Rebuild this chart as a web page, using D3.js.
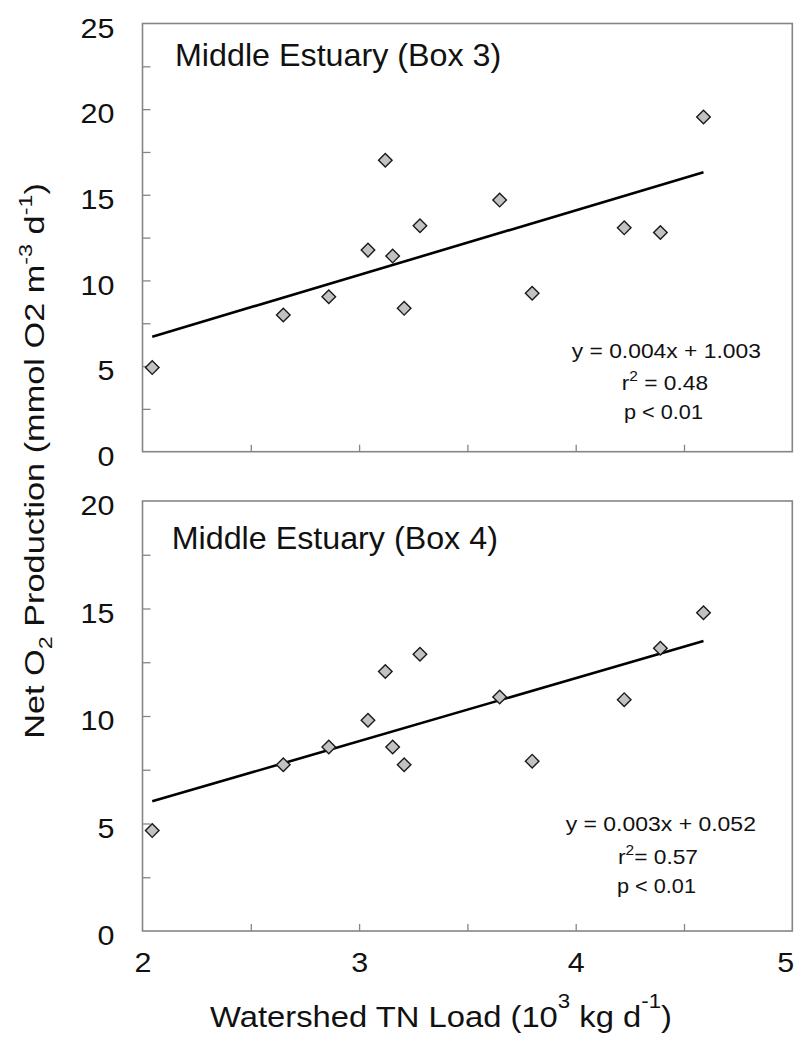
<!DOCTYPE html>
<html>
<head>
<meta charset="utf-8">
<script src="https://cdn.jsdelivr.net/npm/d3@7"></script>
<style>
  html, body { margin: 0; padding: 0; background: #fff; }
  svg { display: block; }
  text { font-family: "Liberation Sans", Arial, Helvetica, sans-serif; fill: #111; }
</style>
</head>
<body>
<svg id="chart" width="795" height="1038"></svg>
<script>
// Watershed total-nitrogen load (10^3 kg d^-1), shared by both boxes
const loads = [2.045, 2.650, 2.860, 3.041, 3.121, 3.155, 3.208, 3.281, 3.649, 3.799, 4.224, 4.391, 4.590];
// Net O2 production (mmol O2 m^-3 d^-1)
const box3 = [4.91, 7.98, 9.05, 11.77, 17.02, 11.42, 8.37, 13.19, 14.69, 9.25, 13.07, 12.80, 19.54];
const box4 = [4.67, 7.73, 8.56, 9.80, 12.07, 8.56, 7.73, 12.87, 10.88, 7.90, 10.76, 13.15, 14.80];

const panelTitles = ["Middle Estuary (Box 3)", "Middle Estuary (Box 4)"];
const equations = ["y = 0.004x + 1.003", "y = 0.003x + 0.052"];
const rSquared = ["0.48", "0.57"];
const pValues = ["p < 0.01", "p < 0.01"];
const xTickLabels = [2, 3, 4, 5];
const yMax = [25, 20];

const svg = d3.select("#chart");
const GRAY = "#858585";

const left = 142.5, right = 792.3;
const panels = [
  { top: 23.5, bottom: 451.7, values: box3, ymax: yMax[0], title: panelTitles[0], eq: equations[0], r2: rSquared[0], p: pValues[0],
    titlePos: [175, 66, 326.5], eqPos: [[666.3, 358, 189.3], [664.9, 389.5, 86.3], [663.5, 419, 79]], r2Sep: " = ", showX: false },
  { top: 501, bottom: 931, values: box4, ymax: yMax[1], title: panelTitles[1], eq: equations[1], r2: rSquared[1], p: pValues[1],
    titlePos: [171.7, 549.3, 326.3], eqPos: [[660.8, 830.5, 190.3], [658, 864.3, 80], [656.5, 892.8, 79]], r2Sep: "= ", showX: true }
];

const x = d3.scaleLinear().domain([2, 5]).range([left, right]);

// Write text made of plain / raised / lowered runs
function richText(sel, parts, size, raise) {
  const t = sel.append("text").attr("font-size", size);
  let shift = 0;
  parts.forEach(p => {
    const target = p.sup ? -(raise || 0.42) * size : p.sub ? 0.28 * size : 0;
    t.append("tspan")
      .attr("dy", target - shift)
      .attr("font-size", (p.sup || p.sub) ? size * 0.68 : size)
      .text(p.t);
    shift = target;
  });
  return t;
}

// Place a text at (tx, ty) and stretch it horizontally to a set width
function placeFit(t, tx, ty, width, extra) {
  const w = t.node().getBBox().width;
  t.attr("transform", `translate(${tx},${ty})${extra || ""} scale(${width / w},1)`);
}

panels.forEach(P => {
  const g = svg.append("g");
  const y = d3.scaleLinear().domain([0, P.ymax]).range([P.bottom, P.top]);

  // inward ticks every 2.5 on y, every 0.5 on x
  const yTicks = d3.range(2.5, P.ymax, 2.5);
  const xTicks = d3.range(2.5, 5, 0.5);

  const yAxis = g.append("g").attr("transform", `translate(${left},0)`)
    .call(d3.axisLeft(y).tickValues(yTicks).tickSizeInner(-8).tickSizeOuter(0).tickFormat(""));
  const xAxis = g.append("g").attr("transform", `translate(0,${P.bottom})`)
    .call(d3.axisBottom(x).tickValues(xTicks).tickSizeInner(-7).tickSizeOuter(0).tickFormat(""));
  [yAxis, xAxis].forEach(a => {
    a.select(".domain").remove();
    a.selectAll("line").attr("stroke", GRAY).attr("stroke-width", 1.3);
  });

  // frame
  g.append("rect")
    .attr("x", left).attr("y", P.top)
    .attr("width", right - left).attr("height", P.bottom - P.top)
    .attr("fill", "none").attr("stroke", GRAY).attr("stroke-width", 1.6);

  // y tick labels
  const yl = g.append("g").attr("transform", `translate(${left},0)`)
    .call(d3.axisLeft(y).tickValues(d3.range(0, P.ymax + 1, 5)).tickSize(0).tickFormat(d3.format("d")));
  yl.select(".domain").remove();
  yl.selectAll("text")
    .attr("x", 0).attr("dy", null)
    .attr("font-size", 27).attr("font-family", null).attr("fill", "#111")
    .attr("text-anchor", "end")
    .attr("transform", "translate(-28,13.7) scale(1.13,1)");

  if (P.showX) {
    const xl = g.append("g").attr("transform", `translate(0,${P.bottom})`)
      .call(d3.axisBottom(x).tickValues(xTickLabels).tickSize(0).tickFormat(d3.format("d")));
    xl.select(".domain").remove();
    xl.selectAll("text")
      .attr("y", 0).attr("dy", null)
      .attr("font-size", 27).attr("font-family", null).attr("fill", "#111")
      .attr("text-anchor", "middle")
      .attr("transform", d => `translate(${d === 5 ? -7 : 0},41) scale(1.13,1)`);
  }

  // least-squares fit through the points
  const pts = loads.map((l, i) => [l, P.values[i]]);
  const mx = d3.mean(loads), my = d3.mean(P.values);
  const slope = d3.sum(pts, d => (d[0] - mx) * (d[1] - my)) / d3.sum(pts, d => (d[0] - mx) ** 2);
  const icpt = my - slope * mx;
  const [x0, x1] = d3.extent(loads);
  g.append("path")
    .datum([[x0, icpt + slope * x0], [x1, icpt + slope * x1]])
    .attr("d", d3.line().x(d => x(d[0])).y(d => y(d[1])))
    .attr("fill", "none").attr("stroke", "#000").attr("stroke-width", 2.6);

  // diamonds
  g.selectAll(".pt").data(pts).join("path")
    .attr("class", "pt")
    .attr("d", d3.symbol(d3.symbolSquare, 92)())
    .attr("transform", d => `translate(${x(d[0])},${y(d[1])}) rotate(45)`)
    .attr("fill", "#c2c2c2").attr("stroke", "#1a1a1a").attr("stroke-width", 1.4);

  // panel title
  const tt = g.append("text").attr("font-size", 31).attr("text-anchor", "start").text(P.title);
  placeFit(tt, P.titlePos[0], P.titlePos[1], P.titlePos[2]);

  // regression statistics
  const e1 = g.append("text").attr("font-size", 21).attr("text-anchor", "middle").text(P.eq);
  placeFit(e1, P.eqPos[0][0], P.eqPos[0][1], P.eqPos[0][2]);
  const e2 = richText(g, [{ t: "r" }, { t: "2", sup: true }, { t: P.r2Sep + P.r2 }], 21).attr("text-anchor", "middle");
  placeFit(e2, P.eqPos[1][0], P.eqPos[1][1], P.eqPos[1][2]);
  const e3 = g.append("text").attr("font-size", 21).attr("text-anchor", "middle").text(P.p);
  placeFit(e3, P.eqPos[2][0], P.eqPos[2][1], P.eqPos[2][2]);
});

// axis titles
const yt = richText(svg, [
  { t: "Net O" }, { t: "2", sub: true }, { t: " Production (mmol O2 m" }, { t: "-3", sup: true },
  { t: " d" }, { t: "-1", sup: true }, { t: ")" }
], 28).attr("text-anchor", "middle");
placeFit(yt, 44, 461, 556, " rotate(-90)");

const xt = richText(svg, [
  { t: "Watershed TN Load (10" }, { t: "3", sup: true }, { t: " kg d" }, { t: "-1", sup: true }, { t: ")" }
], 30, 0.62).attr("text-anchor", "middle");
placeFit(xt, 441, 1027, 462);
</script>
</body>
</html>
